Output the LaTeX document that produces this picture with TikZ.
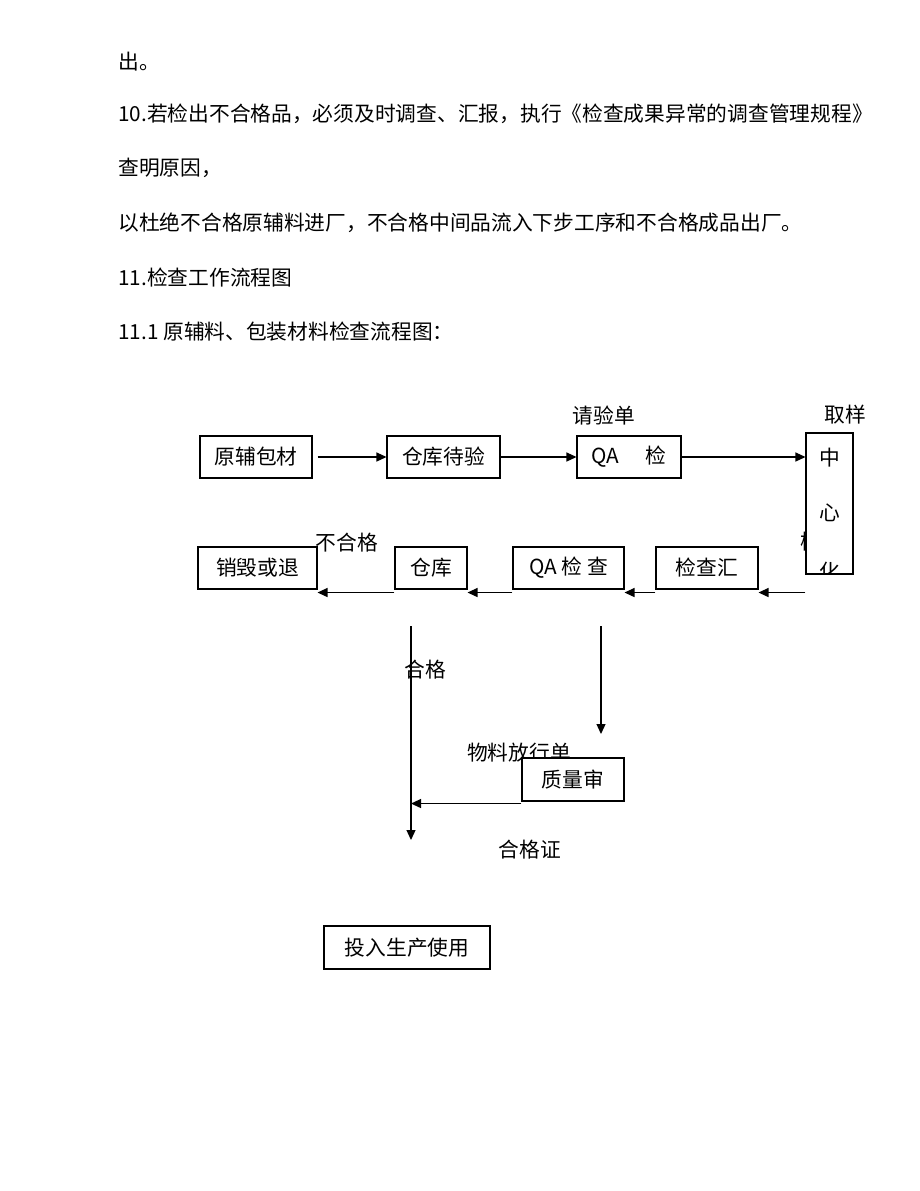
\documentclass[tikz,border=0pt]{standalone}
\usepackage{fontspec}
\setmainfont{Noto Sans CJK SC}
\usepackage{tikz}
\usetikzlibrary{positioning, arrows.meta}

\tikzset{
    every node/.style={font=\fontsize{11.8}{14}\selectfont},
    box/.style={draw, line width=0.6pt, fill=white, inner sep=0pt, minimum height=0.84cm},
    txt/.style={inner sep=0pt},
    flow/.style={line width=0.7pt, -{Triangle[length=0.2cm, width=0.18cm]}},
}

\begin{document}
\begin{tikzpicture}[x=0.02cm, y=-0.02cm]
            \useasboundingbox (0, 0) rectangle (920, 1191);

            \node[txt, anchor=west] (p1) at (118, 62) {出。};
            \node[txt, anchor=west] (p2) at (118, 114) {10.若检出不合格品，必须及时调查、汇报，执行《检查成果异常的调查管理规程》};
            \node[txt, anchor=west] (p3) at (118, 168) {查明原因，};
            \node[txt, anchor=west] (p4) at (118, 223) {以杜绝不合格原辅料进厂，不合格中间品流入下步工序和不合格成品出厂。};
            \node[txt, anchor=west] (p5) at (118, 278) {11.检查工作流程图};
            \node[txt, anchor=west] (p6) at (118, 332) {11.1 原辅料、包装材料检查流程图：};

            \node[txt] (qyd) at (604, 416) {请验单};
            \node[txt] (qy) at (845, 415) {取样};
            \node[txt] (bhg) at (347, 543) {不合格};
            \node[txt] (jy) at (811, 542) {检};
            \node[txt] (wlfx) at (519, 753) {物料放行单};
            \node[txt] (hgz) at (530, 850) {合格证};

            \node[box, minimum width=2.24cm] (yuan) at (256, 457) {原辅包材};
            \node[box, minimum width=2.26cm] (daiyan) at (443.5, 457) {仓库待验};
            \node[box, minimum width=2.08cm] (qa) at (629, 457) {QA\hspace{0.52cm}检};
            \node[box, minimum width=0.94cm, minimum height=2.82cm] (zx) at (829.5, 503.5) {};
            \node[txt] (zx1) at (829.5, 458) {中};
            \node[txt] (zx2) at (829.5, 513) {心};
            \begin{scope}
                \clip ([shift={(0.02cm, 0.02cm)}]zx.south west) rectangle ([shift={(-0.02cm, -0.02cm)}]zx.north east);
                \node[txt] (zx3) at (829.5, 572) {化};
            \end{scope}

            \node[box, minimum width=2.38cm] (xh) at (257.5, 568) {销毁或退};
            \node[box, minimum width=1.44cm] (ck) at (431, 568) {仓库};
            \node[box, minimum width=2.22cm] (qajc) at (568.5, 568) {QA 检 查};
            \node[box, minimum width=2.04cm] (jch) at (707, 568) {检查汇};

            \node[txt] (hg) at (425, 670) {合格};
            \node[box, minimum width=2.04cm, minimum height=0.86cm] (zl) at (573, 779.5) {质量审};
            \node[box, minimum width=3.32cm, minimum height=0.86cm] (tr) at (407, 947.5) {投入生产使用};

            \coordinate (hgtop) at (411, 626);
            \coordinate (hgend) at (411, 840);
            \coordinate (shtop) at (601, 626);
            \coordinate (shend) at (601, 734);

            \draw[flow, shorten <=0.1cm] (yuan) -- (daiyan);
            \draw[flow] (daiyan) -- (qa);
            \draw[flow] (qa.east) -- (qa.east -| zx.west);
            \draw[flow] ([yshift=-0.06cm]jch.south east -| zx.west) -- ([yshift=-0.06cm]jch.south east);
            \draw[flow] ([yshift=-0.06cm]jch.south west) -- ([yshift=-0.06cm]qajc.south east);
            \draw[flow] ([yshift=-0.06cm]qajc.south west) -- ([yshift=-0.06cm]ck.south east);
            \draw[flow] ([yshift=-0.06cm]ck.south west) -- ([yshift=-0.06cm]xh.south east);
            \draw[flow] (hgtop) -- (hgend);
            \draw[flow] (shtop) -- (shend);
            \draw[flow] ([yshift=-0.04cm]zl.south west) -- ([yshift=-0.04cm]zl.south west -| hgtop);
        \end{tikzpicture}
\end{document}
